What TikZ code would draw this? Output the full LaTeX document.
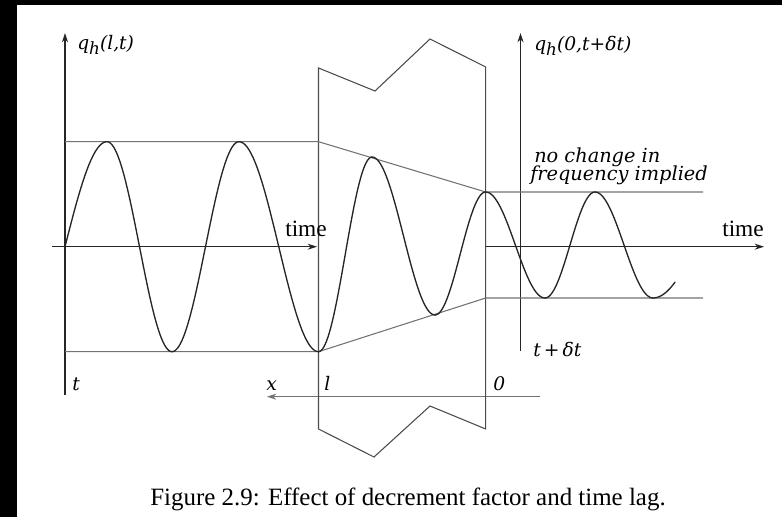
\documentclass[tikz,border=0pt]{standalone}
\usepackage{fontspec}
\setmainfont{Liberation Serif}
\newfontfamily\labfont{DejaVu Serif}
\usetikzlibrary{arrows.meta}
\newcommand\halfwave[4]{\draw[wave] plot[domain=#1:#3,samples=40] (\x,{(#2+#4)/2+(#2-#4)/2*cos(180*(\x-#1)/(#3-#1))});}
\newcommand\subh{\raisebox{-0.45ex}{\scalebox{0.9}{h}}}
\begin{document}
\begin{tikzpicture}[x=0.75pt,y=-0.75pt,
  axis/.style={line width=0.9pt,black!85},
  guide/.style={line width=0.8pt,black!55},
  wall/.style={line width=0.8pt,black!70,line join=miter},
  wave/.style={line width=1pt,black!85,line cap=round},
  arr/.style={-{Stealth[length=7pt,width=4.5pt]}},
  lab/.style={inner sep=0pt,font=\labfont\itshape\fontsize{14}{16}\selectfont},
  labbig/.style={inner sep=0pt,font=\labfont\itshape\fontsize{14.5}{16}\selectfont},
  rom/.style={inner sep=0pt,font=\fontsize{17.5}{20}\selectfont}]
\useasboundingbox (0,0) rectangle (782,517);
\fill[black] (0,0) rectangle (782,517);
\fill[white] (17,5) rectangle (782,517);
% axes
\coordinate (LAb) at (65,395); \coordinate (LAt) at (65,33);
\coordinate (RAb) at (520.5,351); \coordinate (RAt) at (520.5,33);
\coordinate (LTs) at (52,246.7); \coordinate (LTe) at (317,246.7);
\coordinate (RTs) at (486,246.7); \coordinate (RTe) at (764,246.7);
\coordinate (XAs) at (540,396.7); \coordinate (XAe) at (267,396.7);
\draw[axis,arr] (LAb) -- (LAt);
\draw[axis,arr] (RAb) -- (RAt);
\draw[axis,arr] (LTs) -- (LTe);
\draw[axis,arr] (RTs) -- (RTe);
\draw[guide,arr] (XAs) -- (XAe);
% wall
\draw[wall] (318.5,429) -- (318.5,68) -- (375,91) -- (430,39) -- (485.7,67)
  -- (485.7,429) -- (430,406) -- (374,457) -- cycle;
% envelope lines
\coordinate (U1) at (65,141.7); \coordinate (U2) at (318.5,141.7);
\coordinate (D1) at (65,351.7); \coordinate (D2) at (318.5,351.7);
\coordinate (U3) at (485.7,192); \coordinate (U4) at (703,192);
\coordinate (D3) at (485.7,298); \coordinate (D4) at (703,298);
\draw[guide] (U1) -- (U2) -- (U3) -- (U4);
\draw[guide] (D1) -- (D2) -- (D3) -- (D4);
% waves
\draw[wave] plot[domain=65:107,samples=30] (\x,{246.7-105*sin(90*(\x-65)/42)});
\halfwave{107}{141.7}{172}{351.7}
\halfwave{172}{351.7}{239}{141.7}
\halfwave{239}{141.7}{318.5}{351.7}
\halfwave{318.5}{351.7}{372}{157}
\halfwave{372}{157}{435}{315}
\halfwave{435}{315}{485.7}{192}
\halfwave{485.7}{192}{545}{298}
\halfwave{545}{298}{595}{192}
\halfwave{595}{192}{653}{298}
\draw[wave] plot[domain=653:675,samples=20] (\x,{245+53*cos(180*(\x-653)/87)});
% labels
\node[lab,anchor=base west] (qL) at (77,50) {q\subh(l,t)};
\node[lab,anchor=base west] (qR) at (534,51) {q\subh(0,t+δt)};
\node[labbig,anchor=base west] (nc1) at (534,162) {no change in};
\node[labbig,anchor=base west] (nc2) at (530,180) {frequency implied};
\node[rom,anchor=base west] (tl) at (285,236.5) {time};
\node[rom,anchor=base west] (tr) at (722,236.5) {time};
\node[lab,anchor=base west] (tt) at (72,390) {t};
\node[lab,anchor=base west] (xx) at (266,390) {x};
\node[lab,anchor=base west] (ll) at (324,390) {l};
\node[lab,anchor=base west] (oo) at (493,390) {0};
\node[lab,anchor=base west] (tdt) at (533,356) {t\,+\,δt};
\node[rom,anchor=base,font=\fontsize{18.7}{22}\selectfont] (cap) at (408,505) {Figure 2.9: Effect of decrement factor and time lag.};
\end{tikzpicture}
\end{document}
